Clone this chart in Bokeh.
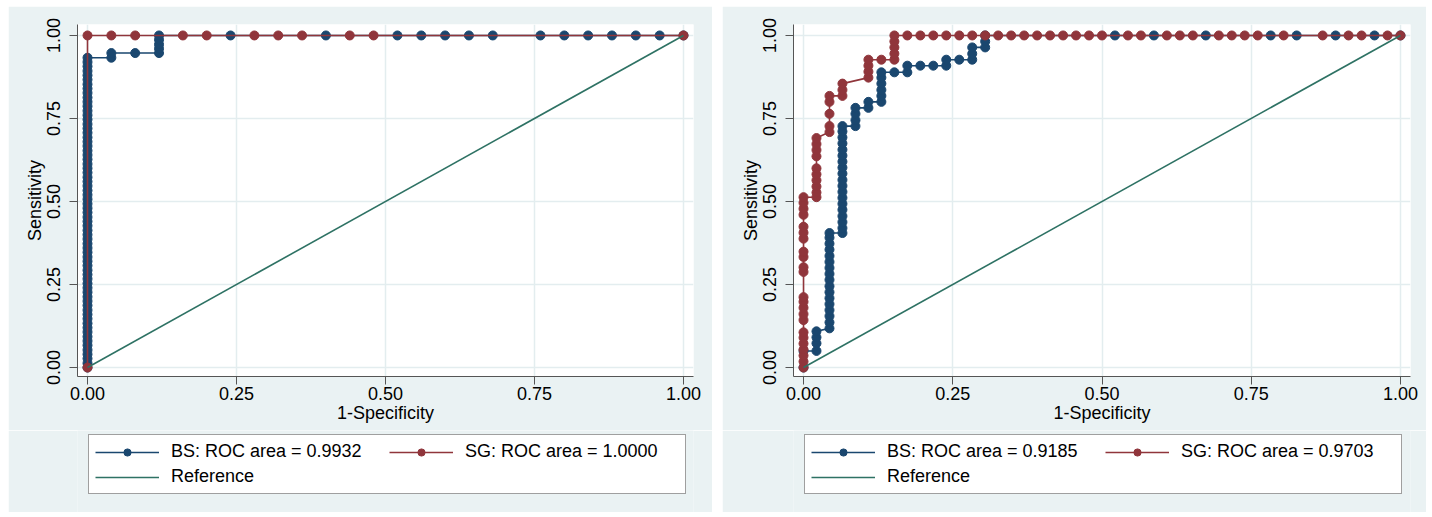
from bokeh.plotting import figure
from bokeh.layouts import row, column
from bokeh.models import Legend, LegendItem, FixedTicker
from bokeh.embed import file_html
from bokeh.resources import INLINE

NAVY = "#1A476F"
MAROON = "#90353B"
REFC = "#2E7264"
BG = "#EAF2F3"
GRID = "#E3EDEF"
FONT = "Liberation Sans"

tick_values = [0.0, 0.25, 0.50, 0.75, 1.0]
tick_labels = ["0.00", "0.25", "0.50", "0.75", "1.00"]

ref_x = [0.0, 1.0]
ref_y = [0.0, 1.0]

# ---------------- left panel ----------------
left_bs_label = "BS: ROC area = 0.9932"
left_sg_label = "SG: ROC area = 1.0000"

left_bs_fpr = [0.00, 0.04, 0.08, 0.12, 0.24, 0.40, 0.52, 0.56, 0.60, 0.64, 0.68,
               0.76, 0.80, 0.84, 0.88, 0.92, 0.96, 1.00]
left_bs_sens = [
    [0.000, 0.013, 0.027, 0.040, 0.053, 0.067, 0.080, 0.093, 0.107, 0.120,
     0.133, 0.147, 0.160, 0.173, 0.187, 0.200, 0.213, 0.227, 0.240, 0.253,
     0.267, 0.280, 0.293, 0.307, 0.320, 0.333, 0.347, 0.360, 0.373, 0.387,
     0.400, 0.413, 0.427, 0.440, 0.453, 0.467, 0.480, 0.493, 0.507, 0.520,
     0.533, 0.547, 0.560, 0.573, 0.587, 0.600, 0.613, 0.627, 0.640, 0.653,
     0.667, 0.680, 0.693, 0.707, 0.720, 0.733, 0.747, 0.760, 0.773, 0.787,
     0.800, 0.813, 0.827, 0.840, 0.853, 0.867, 0.880, 0.893, 0.907, 0.920,
     0.933],
    [0.933, 0.947],
    [0.947],
    [0.947, 0.960, 0.973, 0.987, 1.000],
    [1.0], [1.0], [1.0], [1.0], [1.0], [1.0], [1.0],
    [1.0], [1.0], [1.0], [1.0], [1.0], [1.0], [1.0],
]

left_sg_fpr = [0.00, 0.04, 0.08, 0.16, 0.20, 0.28, 0.32, 0.36, 0.44, 0.48, 1.00]
left_sg_sens = [
    [0.0, 1.0],
    [1.0], [1.0], [1.0], [1.0], [1.0], [1.0], [1.0], [1.0], [1.0], [1.0],
]

# ---------------- right panel ----------------
right_bs_label = "BS: ROC area = 0.9185"
right_sg_label = "SG: ROC area = 0.9703"

right_bs_fpr = [0.0000, 0.0217, 0.0435, 0.0652, 0.0870, 0.1087, 0.1304, 0.1522,
                0.1739, 0.1957, 0.2174, 0.2391, 0.2609, 0.2826, 0.3043,
                0.5217, 0.5870, 0.6739, 0.7826, 0.8261, 0.8913, 0.9565, 1.0000]
right_bs_sens = [
    [0.000, 0.050],
    [0.050, 0.073, 0.091, 0.109],
    [0.118, 0.136, 0.155, 0.173, 0.191, 0.209, 0.227, 0.245, 0.264, 0.282,
     0.300, 0.318, 0.336, 0.355, 0.373, 0.391, 0.405],
    [0.405, 0.420, 0.438, 0.456, 0.475, 0.493, 0.511, 0.529, 0.547, 0.565,
     0.584, 0.602, 0.620, 0.638, 0.656, 0.675, 0.693, 0.711, 0.727],
    [0.727, 0.745, 0.764, 0.782],
    [0.782, 0.800],
    [0.800, 0.818, 0.836, 0.855, 0.873, 0.889],
    [0.889],
    [0.889, 0.909],
    [0.909],
    [0.909],
    [0.909, 0.927],
    [0.927],
    [0.927, 0.945, 0.964],
    [0.964, 0.982, 1.000],
    [1.0], [1.0], [1.0], [1.0], [1.0], [1.0], [1.0], [1.0],
]

right_sg_fpr = [0.0000, 0.0217, 0.0435, 0.0652, 0.1087, 0.1304, 0.1522,
                0.1739, 0.1957, 0.2174, 0.2391, 0.2609, 0.2826, 0.3043, 0.3261,
                0.3478, 0.3696, 0.3913, 0.4130, 0.4348, 0.4565, 0.4783, 0.5000,
                0.5435, 0.5652, 0.6087, 0.6304, 0.6522, 0.6957, 0.7174, 0.7391,
                0.7609, 0.8043, 0.8696, 0.9130, 0.9348, 0.9783, 1.0000]
right_sg_sens = [
    [0.000, 0.018, 0.036, 0.054, 0.072, 0.090, 0.106,
     0.143, 0.161, 0.180, 0.198, 0.212,
     0.288, 0.302, 0.333, 0.349,
     0.388, 0.406, 0.424,
     0.460, 0.478, 0.496, 0.513],
    [0.513, 0.527, 0.545, 0.564, 0.582, 0.600, 0.636, 0.655, 0.673, 0.691],
    [0.709, 0.727, 0.764, 0.800, 0.818],
    [0.818, 0.836, 0.855],
    [0.873, 0.891, 0.909, 0.927],
    [0.927],
    [0.927, 0.945, 0.964, 0.982, 1.000],
    [1.0], [1.0], [1.0], [1.0], [1.0], [1.0], [1.0], [1.0],
    [1.0], [1.0], [1.0], [1.0], [1.0], [1.0], [1.0], [1.0],
    [1.0], [1.0], [1.0], [1.0], [1.0], [1.0], [1.0], [1.0],
    [1.0], [1.0], [1.0], [1.0], [1.0], [1.0], [1.0],
]


def expand(fprs, groups):
    xs, ys = [], []
    for f, g in zip(fprs, groups):
        for s in g:
            xs.append(f)
            ys.append(s)
    return xs, ys


def add_curves(fig, bx, by, sx, sy):
    bl = fig.line(bx, by, color=NAVY, line_width=1.6)
    bp = fig.scatter(bx, by, size=9, color=NAVY)
    sl = fig.line(sx, sy, color=MAROON, line_width=1.6)
    sp = fig.scatter(sx, sy, size=9, color=MAROON)
    rl = fig.line(ref_x, ref_y, color=REFC, line_width=1.6)
    return bl, bp, sl, sp, rl


def make_panel(bs_fpr, bs_sens, sg_fpr, sg_sens, bs_label, sg_label,
               border_left, border_right):
    p = figure(width=704, height=424, x_range=(-0.0168, 1.0168),
               y_range=(-0.027, 1.033), output_backend="svg",
               toolbar_location=None,
               min_border_left=border_left, min_border_right=border_right,
               min_border_top=18, min_border_bottom=54)
    p.background_fill_color = "white"
    p.border_fill_color = BG
    p.outline_line_color = None

    bx, by = expand(bs_fpr, bs_sens)
    sx, sy = expand(sg_fpr, sg_sens)
    add_curves(p, bx, by, sx, sy)

    for ax in (p.xaxis[0], p.yaxis[0]):
        ax.ticker = FixedTicker(ticks=tick_values)
        ax.major_label_overrides = {v: l for v, l in zip(tick_values, tick_labels)}
        ax.major_label_text_font = FONT
        ax.major_label_text_font_size = "18px"
        ax.major_label_text_color = "black"
        ax.axis_label_text_font = FONT
        ax.axis_label_text_font_size = "18px"
        ax.axis_label_text_font_style = "normal"
        ax.axis_label_text_color = "black"
        ax.axis_line_color = "#555555"
        ax.major_tick_line_color = "#555555"
        ax.major_tick_out = 8
        ax.major_tick_in = 0
        ax.minor_tick_line_color = None
        ax.axis_label_standoff = 0
    p.xaxis.major_label_standoff = 2
    p.yaxis.major_label_standoff = 9
    p.xaxis.axis_label = "1-Specificity"
    p.yaxis.axis_label = "Sensitivity"
    p.yaxis.major_label_orientation = "vertical"

    p.xgrid.ticker = FixedTicker(ticks=tick_values)
    p.ygrid.ticker = FixedTicker(ticks=tick_values)
    p.grid.grid_line_color = GRID
    p.grid.grid_line_width = 1.5

    # legend strip below the plot; its curves lie outside its visible range
    lg = figure(width=704, height=82, x_range=(0, 1), y_range=(5, 6),
                output_backend="svg", toolbar_location=None,
                min_border_left=0, min_border_right=0,
                min_border_top=0, min_border_bottom=0)
    lg.background_fill_color = BG
    lg.border_fill_color = BG
    lg.outline_line_color = None
    lg.axis.visible = False
    lg.grid.visible = False
    kl, kp, gl, gp, rl = add_curves(lg, bx, by, sx, sy)

    legend = Legend(items=[
        LegendItem(label=bs_label, renderers=[kl, kp]),
        LegendItem(label=sg_label, renderers=[gl, gp]),
        LegendItem(label="Reference", renderers=[rl]),
    ], location=(11, 18), orientation="horizontal", ncols=2)
    legend.label_text_font = FONT
    legend.label_text_font_size = "18px"
    legend.label_text_color = "black"
    legend.glyph_width = 64
    legend.glyph_height = 18
    legend.label_height = 18
    legend.label_standoff = 12
    legend.label_width = 214
    legend.spacing = 4
    legend.padding = 6
    legend.margin = 0
    legend.border_line_color = "#404040"
    legend.border_line_width = 1
    legend.background_fill_color = "white"
    legend.background_fill_alpha = 1.0
    lg.add_layout(legend)
    return column(p, lg, spacing=0)


c1 = make_panel(left_bs_fpr, left_bs_sens, left_sg_fpr, left_sg_sens,
                left_bs_label, left_sg_label, 69, 19)
c2 = make_panel(right_bs_fpr, right_bs_sens, right_sg_fpr, right_sg_sens,
                right_bs_label, right_sg_label, 71, 16)

layout = row(c1, c2, spacing=10, margin=(6, 0, 0, 8))

open("out.html", "w").write(file_html(layout, INLINE))
